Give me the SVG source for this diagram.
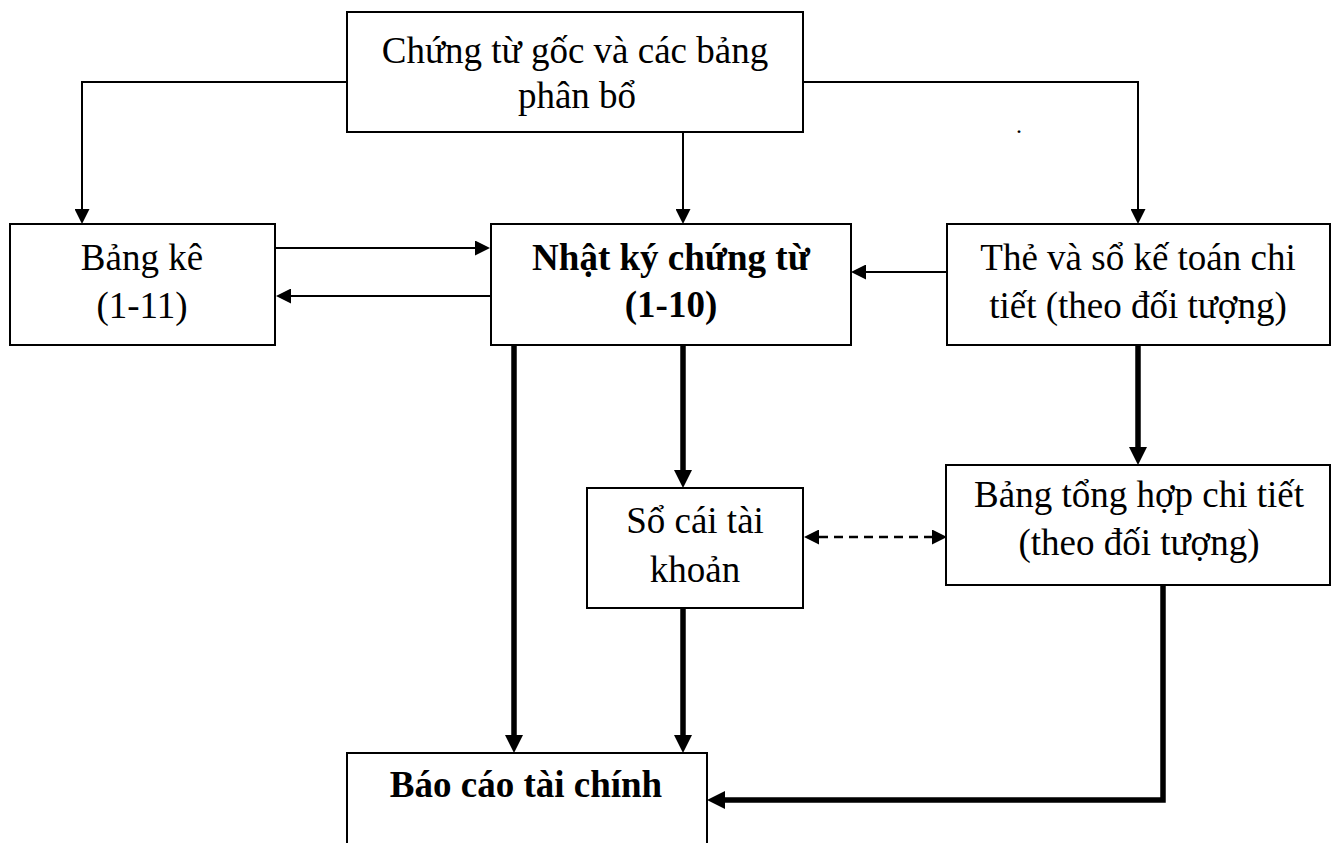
<svg xmlns="http://www.w3.org/2000/svg" width="1339" height="843" viewBox="0 0 1339 843">
<style>
.box{fill:#fff;stroke:#000;stroke-width:2}
.t{font-family:"Liberation Serif","Times New Roman",serif;font-size:37px;fill:#000;text-anchor:middle}
.b{font-weight:bold}
.thin{fill:none;stroke:#000;stroke-width:2}
.thick{fill:none;stroke:#000;stroke-width:5.5}
.dash{fill:none;stroke:#000;stroke-width:2.4;stroke-dasharray:9,6}
</style>
<defs>
<marker id="a" markerUnits="userSpaceOnUse" markerWidth="15" markerHeight="15" refX="0" refY="7.5" orient="auto-start-reverse"><path d="M0,0 L15,7.5 L0,15 z" fill="#000"/></marker>
<marker id="A" markerUnits="userSpaceOnUse" markerWidth="18" markerHeight="18" refX="0" refY="9" orient="auto"><path d="M0,0 L18,9 L0,18 z" fill="#000"/></marker>
</defs>
<rect width="1339" height="843" fill="#fff"/>
<g id="connectors">
<path class="thin" d="M347,82 H82 V209" marker-end="url(#a)"/>
<path class="thin" d="M683,127 V209" marker-end="url(#a)"/>
<path class="thin" d="M803,82 H1138 V209" marker-end="url(#a)"/>
<path class="thin" d="M275,248 H475" marker-end="url(#a)"/>
<path class="thin" d="M491,296 H291" marker-end="url(#a)"/>
<path class="thin" d="M947,272 H866" marker-end="url(#a)"/>
<path class="thick" d="M514,345 V735" marker-end="url(#A)"/>
<path class="thick" d="M683,345 V470" marker-end="url(#A)"/>
<path class="thick" d="M683,608 V735" marker-end="url(#A)"/>
<path class="thick" d="M1138,345 V447" marker-end="url(#A)"/>
<path class="thick" d="M1163,585 V800 H725" marker-end="url(#A)"/>
<path class="dash" d="M819,537 H932" marker-start="url(#a)" marker-end="url(#a)"/>
</g>
<g id="n-chungtu">
<rect class="box" x="347" y="12" width="456" height="120"/>
<text class="t" x="575" y="63">Chứng từ gốc và các bảng</text>
<text class="t" x="577" y="108">phân bổ</text>
</g>
<g id="n-bangke">
<rect class="box" x="10" y="224" width="265" height="121"/>
<text class="t" x="142" y="270">Bảng kê</text>
<text class="t" x="142" y="318">(1-11)</text>
</g>
<g id="n-nhatky">
<rect class="box" x="491" y="224" width="360" height="121"/>
<text class="t b" x="671" y="270">Nhật ký chứng từ</text>
<text class="t b" x="671" y="317">(1-10)</text>
</g>
<g id="n-the">
<rect class="box" x="947" y="224" width="383" height="121"/>
<text class="t" x="1138" y="270">Thẻ và sổ kế toán chi</text>
<text class="t" x="1138" y="318">tiết (theo đối tượng)</text>
</g>
<g id="n-socai">
<rect class="box" x="587" y="488" width="216" height="120"/>
<text class="t" x="695" y="533">Sổ cái tài</text>
<text class="t" x="695" y="582">khoản</text>
</g>
<g id="n-tonghop">
<rect class="box" x="946" y="465" width="384" height="120"/>
<text class="t" x="1139" y="507">Bảng tổng hợp chi tiết</text>
<text class="t" x="1139" y="555">(theo đối tượng)</text>
</g>
<g id="n-baocao">
<rect class="box" x="347" y="753" width="360" height="110"/>
<text class="t b" x="526" y="797">Báo cáo tài chính</text>
</g>
<text x="1019" y="133" style="font-family:'Liberation Serif',serif;font-size:24px;text-anchor:middle">.</text>
</svg>
